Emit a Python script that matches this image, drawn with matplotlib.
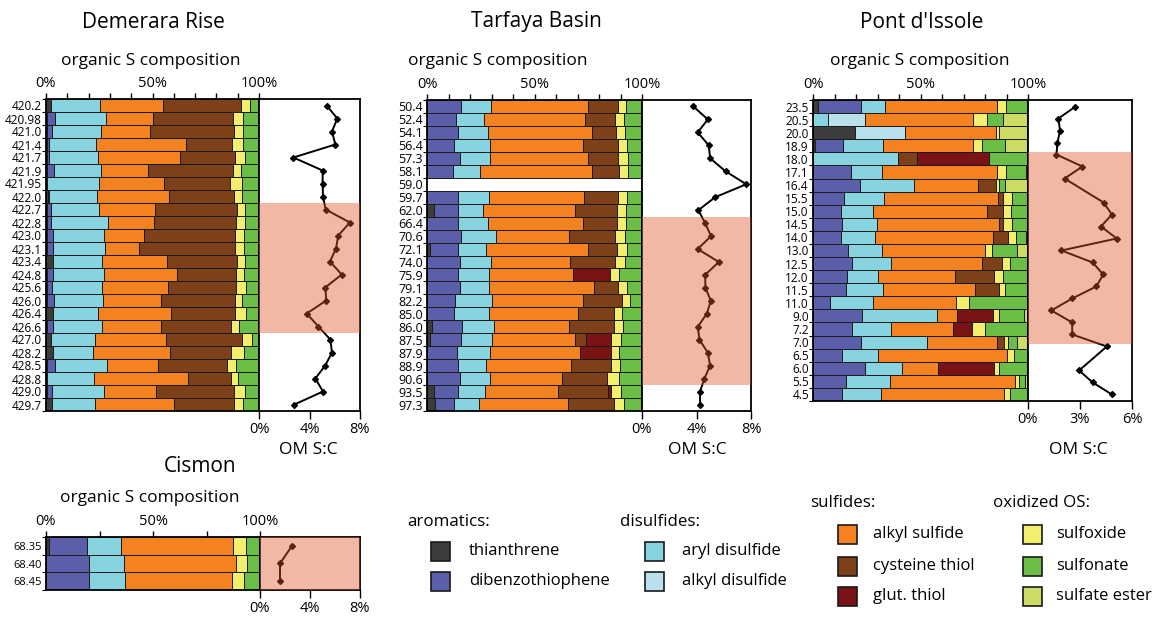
import numpy as np
import matplotlib
matplotlib.use("Agg")
from matplotlib import pyplot as plt
from matplotlib.patches import Rectangle

plt.rcParams['font.family'] = ['Open Sans', 'DejaVu Sans']

# component order: thianthrene, dibenzothiophene, aryl disulfide, alkyl disulfide,
# alkyl sulfide, cysteine thiol, glut. thiol, sulfoxide, sulfonate, sulfate ester
names = ['thianthrene', 'dibenzothiophene', 'aryl disulfide', 'alkyl disulfide',
         'alkyl sulfide', 'cysteine thiol', 'glut. thiol',
         'sulfoxide', 'sulfonate', 'sulfate ester']
colors = ['#3c3c3b', '#5b5ea8', '#87d3e0', '#b9e1ec', '#f58220',
          '#7d4019', '#7b1316', '#f3ee6c', '#6abd45', '#cbdb64']

dem_labels = ['420.2', '420.98', '421.0', '421.4', '421.7', '421.9', '421.95', '422.0',
              '422.7', '422.8', '423.0', '423.1', '423.4', '424.8', '425.6', '426.0',
              '426.4', '426.6', '427.0', '428.2', '428.5', '428.8', '429.0', '429.7']
dem_comp = [
    [2.3, 0, 23.0, 0, 29.7, 36.7, 0, 4.3, 4.0, 0],
    [0.5, 3.8, 23.9, 0, 21.9, 37.8, 0, 4.4, 7.7, 0],
    [0.5, 2.3, 23.0, 0, 23.0, 39.5, 0, 4.2, 7.5, 0],
    [0.7, 0.8, 21.9, 0, 42.2, 21.9, 0, 5.0, 7.5, 0],
    [0.5, 0.8, 23.0, 0, 38.4, 25.8, 0, 4.7, 6.8, 0],
    [0.5, 3.1, 22.2, 0, 22.2, 39.8, 0, 3.9, 8.3, 0],
    [0.5, 0, 24.2, 0, 30.8, 30.8, 0, 5.9, 7.8, 0],
    [0.8, 0.8, 22.2, 0, 34.1, 30.5, 0, 3.4, 8.2, 0],
    [0.4, 1.9, 22.7, 0, 26.1, 38.4, 0, 3.8, 6.7, 0],
    [0.4, 1.9, 27.0, 0, 21.4, 38.3, 0, 4.4, 6.6, 0],
    [0.4, 2.7, 23.9, 0, 19.1, 42.5, 0, 4.4, 7.0, 0],
    [0.4, 3.1, 24.1, 0, 16.1, 44.8, 0, 4.4, 7.1, 0],
    [3.1, 0, 23.0, 0, 30.6, 32.8, 0, 3.8, 6.7, 0],
    [0.4, 2.7, 24.2, 0, 34.4, 27.7, 0, 3.6, 7.0, 0],
    [0.5, 2.3, 23.4, 0, 31.3, 31.9, 0, 4.3, 6.3, 0],
    [0.5, 3.1, 23.1, 0, 27.5, 34.4, 0, 3.6, 7.8, 0],
    [3.1, 0, 21.1, 0, 34.7, 29.7, 0, 5.1, 6.3, 0],
    [0.4, 3.1, 23.0, 0, 27.7, 32.8, 0, 3.6, 9.4, 0],
    [2.3, 0, 20.8, 0, 33.1, 35.9, 0, 4.5, 3.4, 0],
    [3.1, 0, 19.2, 0, 35.9, 28.8, 0, 6.0, 7.0, 0],
    [0.6, 3.4, 24.5, 0, 23.9, 32.5, 0, 4.5, 10.6, 0],
    [0.5, 0, 22.2, 0, 44.2, 19.8, 0, 3.6, 9.7, 0],
    [0.5, 2.3, 24.5, 0, 24.5, 36.4, 0, 5.2, 6.6, 0],
    [2.7, 0, 20.3, 0, 37.2, 28.1, 0, 4.2, 7.5, 0],
]
dem_sc = [5.36, 6.2, 5.78, 6.05, 2.72, 5.04, 5.04, 5.07, 5.28, 7.2, 6.28, 6.1,
          5.62, 6.55, 5.25, 5.33, 3.78, 4.7, 5.65, 5.78, 5.25, 4.46, 5.07, 2.8]

tar_labels = ['50.4', '52.4', '54.1', '56.4', '57.3', '58.1', '59.0', '59.7', '62.0',
              '66.4', '70.6', '72.1', '74.0', '75.9', '79.1', '82.2', '85.0', '86.0',
              '87.5', '87.9', '88.9', '90.6', '93.5', '97.3']
tar_comp = [
    [0, 16.0, 13.8, 0, 45.1, 13.8, 0, 4.0, 7.3, 0],
    [0, 13.6, 13.0, 0, 47.0, 14.0, 0, 3.9, 8.5, 0],
    [0, 14.4, 14.0, 0, 48.3, 11.2, 0, 4.0, 8.1, 0],
    [0, 12.7, 16.4, 0, 43.4, 16.3, 0, 4.2, 7.0, 0],
    [0, 15.2, 14.3, 0, 45.4, 14.0, 0, 4.4, 6.7, 0],
    [0, 12.1, 12.7, 0, 51.9, 12.4, 0, 4.2, 6.7, 0],
    [0, 0, 0, 0, 0, 0, 0, 0, 0, 0],
    [0, 14.4, 14.6, 0, 43.8, 16.0, 0, 4.2, 7.0, 0],
    [3.1, 11.3, 11.5, 0, 43.1, 19.4, 0, 4.2, 7.4, 0],
    [0, 14.4, 14.0, 0, 44.0, 16.0, 0, 4.3, 7.3, 0],
    [0, 15.8, 16.4, 0, 34.0, 21.1, 0, 4.6, 8.1, 0],
    [1.6, 12.9, 13.0, 0, 47.3, 13.6, 0, 4.6, 7.0, 0],
    [0, 15.2, 14.6, 0, 36.6, 20.9, 0, 4.6, 8.1, 0],
    [0, 14.3, 14.7, 0, 38.8, 0, 17.5, 4.2, 10.5, 0],
    [0, 15.2, 13.8, 0, 48.8, 11.0, 0, 4.2, 7.0, 0],
    [0, 13.2, 17.1, 0, 42.2, 18.0, 0, 3.8, 5.7, 0],
    [0, 12.7, 16.0, 0, 41.6, 16.6, 0, 3.9, 9.2, 0],
    [2.3, 14.0, 14.7, 0, 35.2, 20.6, 0, 4.4, 8.8, 0],
    [1.2, 14.7, 14.3, 0, 38.8, 5.0, 11.8, 4.4, 9.8, 0],
    [0, 14.0, 15.2, 0, 41.9, 0, 14.6, 3.8, 10.5, 0],
    [0, 14.4, 13.2, 0, 39.4, 18.8, 0, 4.1, 10.1, 0],
    [0, 15.5, 13.6, 0, 33.6, 20.9, 0, 5.9, 10.5, 0],
    [3.1, 11.3, 12.4, 0, 34.1, 23.1, 1.7, 4.7, 9.6, 0],
    [3.6, 8.8, 11.6, 0, 41.4, 21.4, 0, 4.7, 8.5, 0],
]
tar_sc = [3.77, 4.83, 4.09, 4.9, 5.0, 6.13, 7.65, 5.37, 4.14, 4.63, 5.07, 4.09,
          5.64, 4.63, 4.66, 5.05, 4.75, 4.09, 4.22, 4.83, 5.0, 4.58, 4.26, 4.26]

pont_labels = ['23.5', '20.5', '20.0', '18.9', '18.0', '17.1', '16.4', '15.5', '15.0',
               '14.5', '14.0', '13.0', '12.5', '12.0', '11.5', '11.0', '9.0', '7.2',
               '7.0', '6.5', '6.0', '5.5', '4.5']
pont_comp = [
    [2.3, 19.8, 11.4, 0, 52.2, 0, 0, 3.9, 10.4, 0],
    [0, 0, 7.0, 17.0, 50.5, 0, 0, 6.3, 7.8, 11.4],
    [19.5, 0, 0, 23.3, 42.2, 0, 0, 1.6, 0, 13.4],
    [0.8, 13.3, 18.3, 0, 41.9, 0, 0, 4.5, 10.3, 10.9],
    [0, 0, 39.7, 0, 0, 8.8, 33.5, 0, 18.0, 0],
    [0, 17.5, 14.4, 0, 53.9, 0, 0, 3.9, 9.4, 0.9],
    [0, 21.7, 25.2, 0, 30.0, 8.3, 0, 1.1, 3.1, 10.6],
    [0, 14.4, 18.4, 0, 53.4, 2.0, 0, 4.2, 7.6, 0],
    [0, 13.1, 15.0, 0, 53.0, 7.5, 0, 3.4, 8.0, 0],
    [0, 13.3, 16.4, 0, 56.9, 2.0, 0, 3.9, 7.5, 0],
    [0, 13.1, 15.6, 0, 55.2, 7.0, 0, 3.4, 4.9, 0.8],
    [0, 16.3, 15.6, 0, 48.1, 0, 0, 3.4, 11.4, 5.2],
    [0, 18.3, 18.0, 0, 42.5, 9.1, 0, 3.6, 8.5, 0],
    [0, 15.6, 14.7, 0, 35.6, 18.4, 0, 3.9, 11.8, 0],
    [0, 15.5, 16.9, 0, 43.0, 10.9, 0, 3.1, 10.6, 0],
    [0, 8.1, 19.8, 0, 38.8, 0, 0, 5.9, 27.4, 0],
    [0, 23.0, 34.8, 0, 9.2, 0, 16.6, 3.1, 11.3, 2.0],
    [0, 18.3, 18.0, 0, 28.9, 0, 8.9, 5.9, 20.0, 0],
    [0, 22.2, 30.8, 0, 32.8, 3.1, 0, 2.0, 3.9, 5.2],
    [0, 13.3, 16.7, 0, 60.2, 0, 0, 3.1, 6.7, 0],
    [0, 24.1, 17.2, 0, 16.9, 0, 25.8, 2.7, 13.3, 0],
    [0, 15.5, 20.3, 0, 58.0, 0, 0, 2.2, 2.5, 1.5],
    [0, 13.6, 18.0, 0, 57.3, 0, 0, 2.8, 8.3, 0],
]
# S:C samples sit on their own 25-step grid (two steps without a sample)
pont_sc_slot = [0, 1, 2, 3, 4, 5, 6, 8, 9, 10, 11, 12, 13, 14, 15, 16, 17, 18, 19, 20,
                22, 23, 24]
pont_sc = [2.74, 1.75, 1.85, 1.7, 1.64, 3.14, 2.11, 4.36, 4.84, 4.21, 5.12, 1.93,
           3.73, 4.34, 3.94, 2.55, 1.35, 2.55, 2.55, 4.55, 2.95, 3.73, 4.84]

cis_labels = ['68.35', '68.40', '68.45']
cis_comp = [
    [1.2, 17.8, 16.1, 0, 52.3, 0, 0, 6.0, 6.6, 0],
    [0, 20.0, 16.4, 0, 52.2, 0, 0, 5.5, 5.9, 0],
    [0, 20.0, 17.0, 0, 49.7, 0, 0, 6.0, 7.3, 0],
]
cis_sc = [2.56, 1.6, 1.6]

W, H = 1152, 637
SHADE = '#dc5425'

fig = plt.figure(figsize=(W / 100, H / 100), dpi=100)


def px_axes(l, t, r, b):
    return fig.add_axes([l / W, 1 - b / H, (r - l) / W, (b - t) / H])


def draw_panel(comp, labels, sc_y, sc_val, box, sc_right, sc_max, sc_ticks,
               shade, pct_ticks, lab_size=8.5):
    l, t, r, b = box
    comp = np.array(comp, dtype=float)
    n = len(labels)
    y = np.arange(n)
    ax = px_axes(l, t, r, b)
    cum = np.zeros(n)
    for j in range(comp.shape[1]):
        v = comp[:, j]
        m = v > 0
        ax.barh(y[m], v[m], left=cum[m], height=1.0, color=colors[j],
                edgecolor='#1a1a1a', linewidth=0.7)
        cum += v
    ax.set_xlim(0, 100)
    ax.set_ylim(n - 0.5, -0.5)
    ax.xaxis.tick_top()
    ax.set_xticks(pct_ticks)
    ax.set_xticklabels(['0%' if v == 0 else '50%' if v == 50 else '100%' if v == 100 else ''
                        for v in pct_ticks], fontsize=10.5)
    ax.tick_params(axis='x', direction='out', length=4, width=1, pad=2)
    ax.set_yticks(y)
    ax.set_yticklabels(labels, fontsize=lab_size)
    ax.set_yticks(np.arange(n + 1) - 0.5, minor=True)
    ax.tick_params(axis='y', which='major', length=0, pad=3)
    ax.tick_params(axis='y', which='minor', length=3, width=0.8, direction='out')
    for s in ax.spines.values():
        s.set_linewidth(1.3)

    ax2 = px_axes(r, t, sc_right, b)
    ax2.set_ylim(n - 0.5, -0.5)
    ax2.set_xlim(0, sc_max)
    ax2.axhspan(shade[0], shade[1], color=SHADE, alpha=0.41, lw=0, zorder=3)
    ax2.plot(sc_val, sc_y, color='black', lw=1.4, marker='D', markersize=3.0, zorder=2)
    ax2.set_yticks([])
    ax2.set_xticks(sc_ticks)
    ax2.set_xticklabels(['%d%%' % v for v in sc_ticks], fontsize=10.5)
    ax2.tick_params(axis='x', direction='out', length=6, width=1, pad=2)
    for s in ax2.spines.values():
        s.set_linewidth(1.3)
    return ax, ax2


ticks10 = list(range(0, 101, 10))
draw_panel(dem_comp, dem_labels, np.arange(len(dem_labels)), dem_sc,
           (46, 99, 259, 411), 360, 8, [0, 4, 8], (7.5, 17.5), ticks10)
draw_panel(tar_comp, tar_labels, np.arange(len(tar_labels)), tar_sc,
           (427, 100, 642, 411), 751, 8, [0, 4, 8], (8.5, 21.5), ticks10, lab_size=9)
pont_y = np.array(pont_sc_slot) * (len(pont_labels) - 1) / 24.0
draw_panel(pont_comp, pont_labels, pont_y, pont_sc,
           (813, 100, 1028, 401), 1132, 6, [0, 3, 6], (3.45, 18.15), ticks10)
draw_panel(cis_comp, cis_labels, np.arange(len(cis_labels)), cis_sc,
           (46, 537, 260, 590), 360, 8, [0, 4, 8], (-0.5, 2.5), [0, 25, 50, 75, 100],
           lab_size=8)


def ftext(x, y, s, size, ha='center'):
    fig.text(x / W, 1 - y / H, s, fontsize=size, ha=ha, va='center')


ftext(153, 22, 'Demerara Rise', 15)
ftext(536, 22, 'Tarfaya Basin', 15)
ftext(922, 22, "Pont d'Issole", 15)
ftext(200, 466, 'Cismon', 15)
for x, y in [(151, 61), (498, 61), (920, 61), (150, 498)]:
    ftext(x, y, 'organic S composition', 12.5)
for x in [308, 697, 1078]:
    ftext(x, 450, 'OM S:C', 12.5)

# legend
legend_groups = [
    ('aromatics:', 407, 522, 431, 469, [(0, 551), (1, 581)]),
    ('disulfides:', 620, 522, 645, 682, [(2, 551), (3, 581)]),
    ('sulfides:', 810, 503, 838, 873, [(4, 534), (5, 566), (6, 596)]),
    ('oxidized OS:', 993, 503, 1023, 1056, [(7, 534), (8, 566), (9, 596)]),
]
for head, hx, hy, px, tx, items in legend_groups:
    ftext(hx, hy, head, 12.2, ha='left')
    for k, iy in items:
        fig.add_artist(Rectangle((px / W, 1 - (iy + 9.5) / H), 19 / W, 19 / H,
                                 transform=fig.transFigure, facecolor=colors[k],
                                 edgecolor='#1a1a1a', linewidth=1.2))
        ftext(tx, iy, names[k], 12.0, ha='left')

fig.savefig('out.png', dpi=100)
